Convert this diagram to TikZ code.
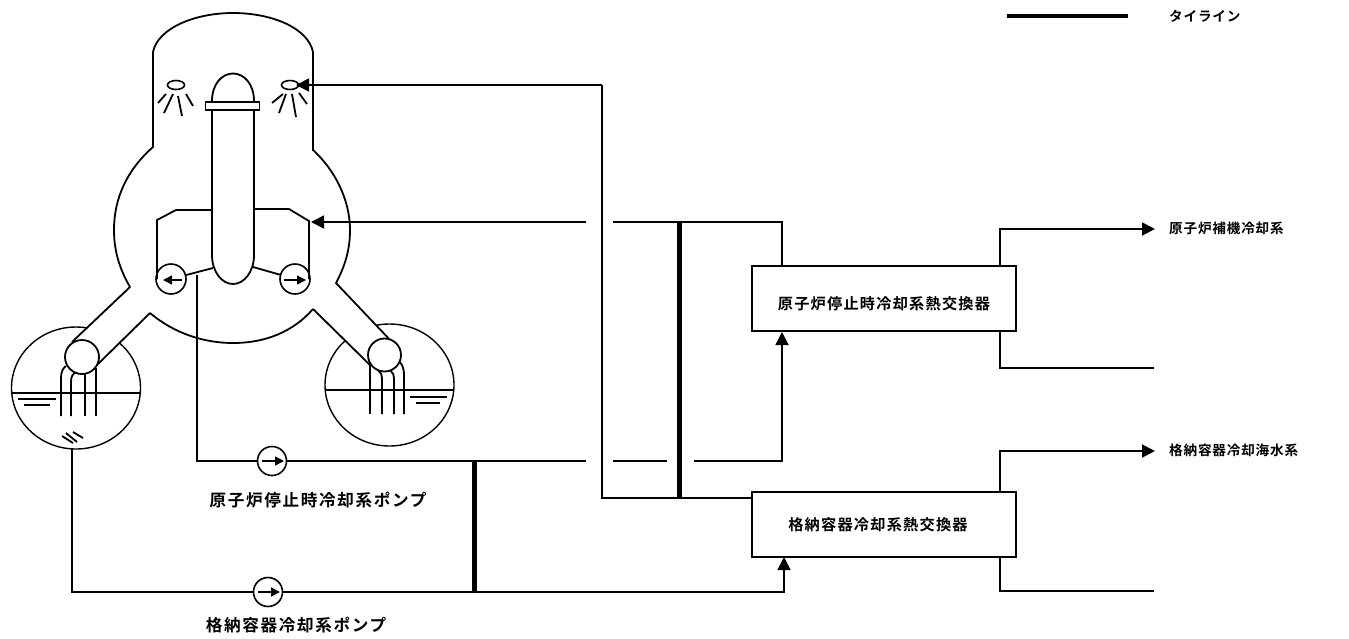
\documentclass[tikz,border=0pt]{standalone}
\usepackage{fontspec}
\usetikzlibrary{arrows.meta,shapes.geometric}
\newfontfamily\jpA[LetterSpace=10]{Noto Sans CJK JP Bold}
\newfontfamily\jpB[LetterSpace=8]{Noto Sans CJK JP Bold}
\newfontfamily\jpC[LetterSpace=6]{Noto Sans CJK JP Bold}
\tikzset{
  ln/.style={line width=1.8pt,line join=miter},
  thin line/.style={line width=1.4pt},
  tie/.style={line width=5pt},
  flow/.style={ln,-{Triangle[length=13pt,width=13pt]}},
  pump/.style={circle,draw,line width=1.6pt,minimum size=29pt,inner sep=0pt,fill=white},
  hx/.style={draw,line width=2pt,minimum width=264pt,minimum height=65pt,inner sep=0pt,fill=white},
  lblA/.style={inner sep=0pt,font=\jpA\fontsize{16.6}{17}\selectfont,anchor=center},
  lblB/.style={inner sep=0pt,font=\jpB\fontsize{15.2}{16}\selectfont,anchor=center},
  lblC/.style={inner sep=0pt,font=\jpC\fontsize{13.6}{14}\selectfont,anchor=west},
  small arrow/.style={line width=1.4pt,-{Triangle[length=9pt,width=9pt]}}
}
\begin{document}
\begin{tikzpicture}[x=1pt,y=-1pt]
\useasboundingbox (0,0) rectangle (1349,638);
% suppression pools
\draw[thin line] (76,388) ellipse [x radius=64.5,y radius=61];
\draw[thin line] (389.5,385) ellipse [x radius=64.5,y radius=61];
% water
\draw[ln] (12,393) -- (140,393);
\draw[thin line] (326,390) -- (453,390);
\draw[ln] (18,399) -- (56,399) (24,405) -- (50,405);
\draw[ln] (410,397) -- (447,397) (416,403) -- (440,403);
% vent pipes in pools
\draw[ln] (61,416) -- (61,378) .. controls (61,372) and (63,368) .. (66,366);
\draw[ln] (71,416) -- (71,382) .. controls (71,376) and (73,373) .. (77,372);
\draw[ln] (85,416) -- (85,372);
\draw[ln] (96,416) -- (96,368);
\draw[ln] (370,414) -- (370,362);
\draw[ln] (382,414) -- (382,380) .. controls (382,375) and (381,372) .. (378,370);
\draw[ln] (394,414) -- (394,380) .. controls (394,375) and (393,372) .. (390,370);
\draw[ln] (404,414) -- (404,375) .. controls (404,370) and (403,366) .. (400,362);
% sparger in pool
\draw[ln] (62,436) -- (73,443) (66,433) -- (77,442) (73,432) -- (83,438);
% vent legs (white masks)
\fill[white] (130,287) -- (72,342) -- (98,365) -- (150,313) -- cycle;
\fill[white] (336,283) -- (392,342) -- (370,365) -- (313,309) -- cycle;
% containment
\draw[ln] (130,287) -- (72,342);
\draw[ln] (150,313) -- (98,364);
\draw[ln] (336,283) -- (392,342);
\draw[ln] (313,309) -- (370,365);
\draw[ln,line cap=round] (130,287) .. controls (119,268) and (114,250) .. (114,230)
  .. controls (114,198) and (127,170) .. (153,147) -- (153,52)
  .. controls (158,28) and (195,13) .. (233,13)
  .. controls (272,13) and (308,28) .. (313,52) -- (313,150)
  .. controls (335,170) and (350,200) .. (350,230)
  .. controls (350,250) and (345,266) .. (336,283);
\draw[ln] (150,313) .. controls (175,334) and (205,343) .. (233,343)
  .. controls (265,343) and (293,332) .. (313,309);
\node[circle,draw,line width=1.8pt,minimum size=34pt,inner sep=0pt,fill=white] (ventL) at (82,357) {};
\node[circle,draw,line width=1.8pt,minimum size=33pt,inner sep=0pt,fill=white] (ventR) at (384.5,355) {};
% reactor vessel
\draw[ln] (212,101) .. controls (212,84) and (222,73.5) .. (233,73.5)
  .. controls (244,73.5) and (254,84) .. (254,101);
\draw[ln] (212,110) -- (212,255) .. controls (212,272) and (222,284) .. (233,284)
  .. controls (244,284) and (254,272) .. (254,255) -- (254,110);
\node[draw,line width=1.8pt,minimum width=54pt,minimum height=8pt,inner sep=0pt] (flange) at (232.5,106) {};
% shield and recirculation loops
\node[pump,minimum size=30pt] (rpL) at (171,279) {};
\node[pump,minimum size=30pt] (rpR) at (295,279) {};
\coordinate (shLb) at (157,279);
\coordinate (shRb) at (309,279);
\draw[ln] (212,210) -- (176,210) -- (157,220) -- (shLb);
\draw[ln] (254,209) -- (289,209) -- (309,221) -- (shRb);
\draw[ln] (rpL) -- (213,268);
\draw[ln] (rpR) -- (253,267);
\draw[small arrow] (182,280) -- (163,280);
\draw[small arrow] (284,280) -- (306,280);
% sprays
\node[draw,ellipse,line width=1.6pt,minimum width=17pt,minimum height=9pt,inner sep=0pt] (sprL) at (176,85) {};
\node[draw,ellipse,line width=1.6pt,minimum width=17pt,minimum height=9pt,inner sep=0pt] (sprR) at (290,85) {};
\draw[ln] (166,94) -- (158,103) (173,94) -- (164,113) (178,96) -- (182,116) (186,94) -- (193,106);
\draw[ln] (283,94) -- (272,103) (286,94) -- (279,113) (292,94) -- (296,117) (299,93) -- (307,104);
% heat exchangers
\node[hx] (hx1) at (884,298.5) {};
\node[hx] (hx2) at (884,524) {};
\node[lblB] (hx1t) at (884,304) {原子炉停止時冷却系熱交換器};
\node[lblB] (hx2t) at (878,525) {格納容器冷却系熱交換器};
% pumps
\node[pump] (p1) at (272,461) {};
\node[pump] (p2) at (268,592) {};
\draw[small arrow] (262,461) -- (284,461);
\draw[small arrow] (258,592) -- (280,592);
\node[lblA] (p1t) at (318,500) {原子炉停止時冷却系ポンプ};
\node[lblA] (p2t) at (296,625) {格納容器冷却系ポンプ};
% named junctions
\coordinate (pipeStart) at (197,275);
\coordinate (pipeCorner) at (197,461);
\coordinate (s1a) at (586,461);
\coordinate (s1b) at (613,461);
\coordinate (s1c) at (667,461);
\coordinate (s1d) at (694,461);
\coordinate (s1e) at (782,461);
\coordinate (hx1in) at (782,332);
\coordinate (rhr) at (311,222);
\coordinate (r1a) at (586,222);
\coordinate (r1b) at (613,222);
\coordinate (r1c) at (782,222);
\coordinate (hx1out) at (782,266);
\coordinate (tieT) at (679,222);
\coordinate (tieB) at (679,498);
\coordinate (ctOut) at (752,498);
\coordinate (ctCorner) at (602,498);
\coordinate (ctTop) at (602,85);
\coordinate (sprTip) at (296,85);
\coordinate (poolOut) at (72,449);
\coordinate (poolCorner) at (72,592);
\coordinate (s2e) at (784,592);
\coordinate (hx2in) at (784,557);
\coordinate (tie2T) at (474,461);
\coordinate (tie2B) at (474,592);
% connectors
\draw[ln] (pipeStart) -- (pipeCorner) -- (p1);
\draw[ln] (p1) -- (s1a);
\draw[ln] (s1b) -- (s1c);
\draw[flow] (s1d) -- (s1e) -- (hx1in);
\draw[flow] (r1a) -- (rhr);
\draw[ln] (hx1out) -- (r1c) -- (r1b);
\draw[tie] (tieT) -- (tieB);
\draw[ln] (ctOut) -- (ctCorner) -- (ctTop);
\draw[flow] (ctTop) -- (sprTip);
\draw[thin line] (poolOut) -- (poolCorner) -- (p2);
\draw[flow] (p2) -- (s2e) -- (hx2in);
\draw[tie] (tie2T) -- (tie2B);
% secondary side
\coordinate (a1) at (1000,266);
\coordinate (a2) at (1000,229);
\coordinate (a3) at (1155,229);
\coordinate (b1) at (1000,331);
\coordinate (b2) at (1000,368);
\coordinate (b3) at (1154,368);
\coordinate (c1) at (1000,492);
\coordinate (c2) at (1000,451);
\coordinate (c3) at (1155,451);
\coordinate (d1) at (1000,556);
\coordinate (d2) at (1000,591);
\coordinate (d3) at (1154,591);
\draw[flow] (a1) -- (a2) -- (a3);
\draw[ln] (b1) -- (b2) -- (b3);
\draw[flow] (c1) -- (c2) -- (c3);
\draw[ln] (d1) -- (d2) -- (d3);
\node[lblC] (n1) at (1169,228) {原子炉補機冷却系};
\node[lblC] (n2) at (1169,450) {格納容器冷却海水系};
% legend
\coordinate (lg1) at (1007,16);
\coordinate (lg2) at (1128,16);
\draw[line width=4pt] (lg1) -- (lg2);
\node[lblC] (n3) at (1169,16) {タイライン};
\end{tikzpicture}
\end{document}
